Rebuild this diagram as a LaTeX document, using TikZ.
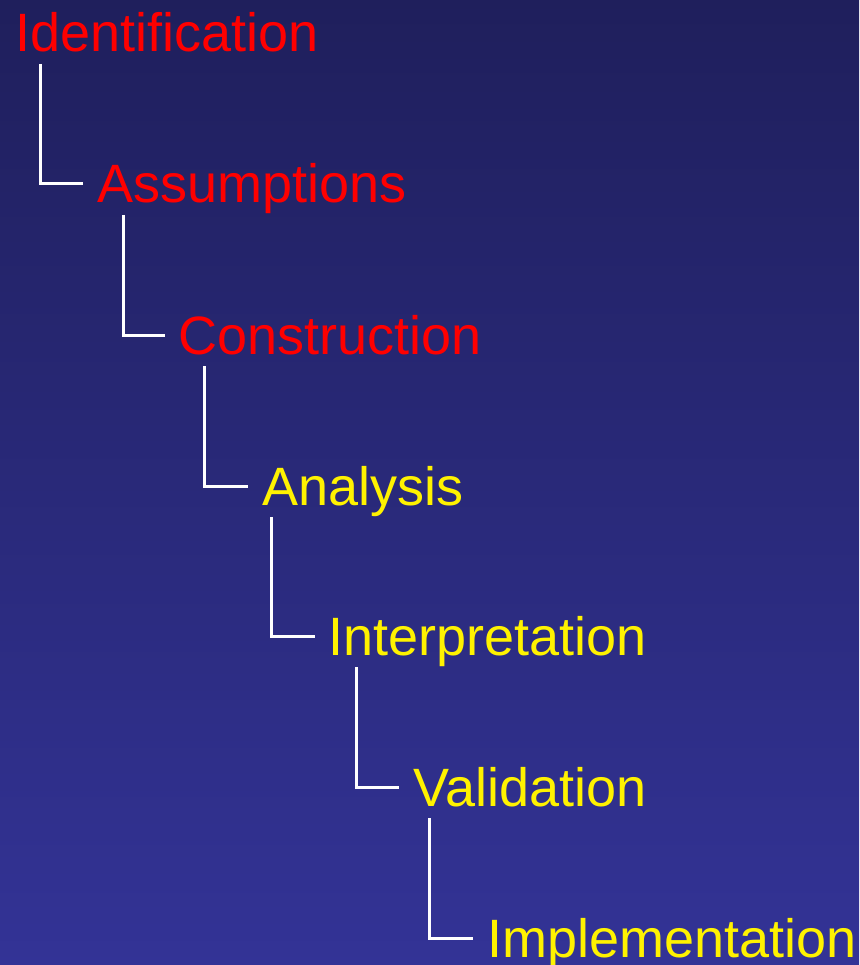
\documentclass[tikz,border=0pt]{standalone}
\usepackage{fontspec}
\setmainfont{Liberation Sans}
\definecolor{navytop}{RGB}{31,31,92}
\definecolor{navybot}{RGB}{51,51,150}
\begin{document}
\begin{tikzpicture}[x=1pt, y=-1pt,
    stage/.style={anchor=base west, inner sep=0pt, font=\fontsize{54}{60}\selectfont},
    early/.style={stage, text=red},
    late/.style={stage, text=yellow},
    link/.style={draw=white, line width=3pt}]
    \shade[top color=navytop, bottom color=navybot] (0,0) rectangle (859,965);
    \useasboundingbox (0,0) rectangle (859,965);
    \node[early] (id) at (15,52) {Identification};
    \node[early] (as) at (97,203) {Assumptions};
    \node[early] (co) at (178,354) {Construction};
    \node[late] (an) at (262,505) {Analysis};
    \node[late] (in) at (328,655) {Interpretation};
    \node[late] (va) at (413,806) {Validation};
    \node[late] (im) at (487,957) {Implementation};
    \draw[link] ([xshift=25pt,yshift=-12pt]id.base west) |- ([xshift=-14pt,yshift=19pt]as.base west);
    \draw[link] ([xshift=26pt,yshift=-12pt]as.base west) |- ([xshift=-13pt,yshift=19pt]co.base west);
    \draw[link] ([xshift=26pt,yshift=-12pt]co.base west) |- ([xshift=-14pt,yshift=19pt]an.base west);
    \draw[link] ([xshift=9pt,yshift=-12pt]an.base west) |- ([xshift=-13pt,yshift=19pt]in.base west);
    \draw[link] ([xshift=28pt,yshift=-12pt]in.base west) |- ([xshift=-14pt,yshift=19pt]va.base west);
    \draw[link] ([xshift=16pt,yshift=-12pt]va.base west) |- ([xshift=-14pt,yshift=19pt]im.base west);
\end{tikzpicture}
\end{document}
